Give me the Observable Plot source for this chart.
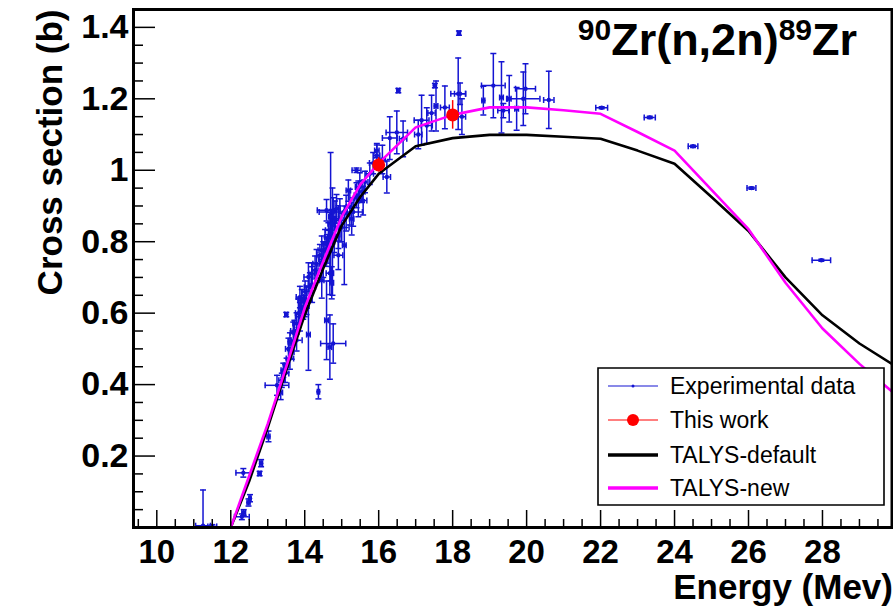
<!DOCTYPE html>
<html>
<head>
<meta charset="utf-8">
<script src="https://cdn.jsdelivr.net/npm/d3@7"></script>
<script src="https://cdn.jsdelivr.net/npm/@observablehq/plot@0.6"></script>
<style>
  html, body { margin: 0; padding: 0; background: #fff; }
  #chart svg { display: block; }
</style>
</head>
<body>
<div id="chart"></div>
<script>
// ---------------- data ----------------
// Experimental data (EXFOR): energy (MeV), cross section (b), x error, y error
const expX    = [11.25, 11.5, 12.3, 12.35, 12.48, 12.52, 12.34, 12.78, 12.82, 13.02, 13.25, 13.35, 14.37,
                 13.38, 13.47, 13.51, 13.6, 13.65, 13.6, 13.78, 13.69, 13.5, 13.78, 13.87, 13.96, 13.92, 14.05, 14.01, 14.14,
                 14.1, 14.59, 14.68, 14.77, 15.07, 14.7, 14.75, 14.73, 13.87, 14.1, 14.19, 14.32, 14.41, 14.46, 14.55, 14.64,
                 14.68, 14.73, 14.82, 14.77, 14.86, 14.91, 14.91, 14.59, 14.46, 14.68, 15.22, 15.31, 15.45, 15.49, 15.4, 15.58,
                 15.63, 15.76, 15.95, 16.22, 16.53, 16.3, 16.49, 16.66, 15.95, 15.18, 15.4, 15.27, 14.59, 17.16, 17.43, 17.55,
                 17.52, 17.79, 18.15, 18.2, 18.17, 18.83, 19.1, 19.32, 19.37, 19.53, 19.73, 19.91, 19.97, 20.6, 22.03, 23.33,
                 24.5, 26.08, 27.97, 18.25, 17.07, 17.3,
                 13.42, 13.56, 13.72, 13.83, 14.0, 14.2, 14.28, 14.5, 14.62, 14.8, 14.95, 15.0, 15.12, 15.55, 15.85, 16.1];
const expY    = [0.005, 0.003, 0.03, 0.042, 0.07, 0.082, 0.153, 0.151, 0.18, 0.255, 0.398, 0.378, 0.38,
                 0.412, 0.431, 0.454, 0.473, 0.491, 0.52, 0.524, 0.545, 0.596, 0.571, 0.59, 0.613, 0.636, 0.636, 0.66, 0.673,
                 0.54, 0.58, 0.505, 0.515, 0.79, 0.87, 0.80, 0.685, 0.645, 0.701, 0.711, 0.738, 0.762, 0.776, 0.794, 0.813,
                 0.832, 0.85, 0.864, 0.883, 0.892, 0.841, 0.762, 0.771, 0.692, 0.712, 0.897, 0.883, 0.92, 0.953, 1.0, 0.915,
                 0.967, 0.99, 1.055, 0.981, 1.223, 1.09, 1.106, 1.088, 1.041, 0.943, 0.93, 0.864, 0.888, 1.14, 1.16, 1.18,
                 1.237, 1.176, 1.214, 1.214, 1.384, 1.195, 1.237, 1.204, 1.167, 1.2, 1.172, 1.2, 1.228, 1.197, 1.175, 1.148,
                 1.067, 0.95, 0.748, 1.15, 1.10, 1.125,
                 0.44, 0.50, 0.55, 0.60, 0.62, 0.68, 0.72, 0.75, 0.78, 0.82, 0.86, 0.84, 0.88, 0.94, 1.02, 1.03];
const expXerr = [0.2, 0.12, 0.2, 0.05, 0.04, 0.03, 0.2, 0.04, 0.04, 0.04, 0.32, 0.05, 0.03,
                 0.08, 0.1, 0.06, 0.1, 0.06, 0.05, 0.15, 0.08, 0.04, 0.1, 0.12, 0.08, 0.1, 0.1, 0.08, 0.15,
                 0.05, 0.05, 0.05, 0.34, 0.05, 0.05, 0.06, 0.05, 0.1, 0.12, 0.08, 0.1, 0.08, 0.1, 0.08, 0.1,
                 0.12, 0.1, 0.1, 0.38, 0.1, 0.08, 0.12, 0.08, 0.06, 0.1, 0.1, 0.25, 0.1, 0.12, 0.12, 0.1,
                 0.08, 0.1, 0.06, 0.1, 0.04, 0.2, 0.29, 0.1, 0.08, 0.06, 0.06, 0.06, 0.25, 0.2, 0.1, 0.05,
                 0.04, 0.12, 0.2, 0.15, 0.04, 0.04, 0.32, 0.05, 0.15, 0.05, 0.05, 0.45, 0.27, 0.14, 0.16, 0.15,
                 0.13, 0.12, 0.25, 0.1, 0.1, 0.15,
                 0.06, 0.08, 0.1, 0.08, 0.12, 0.1, 0.08, 0.12, 0.1, 0.15, 0.1, 0.2, 0.1, 0.08, 0.1, 0.08];
const expYerr = [0.1, 0.005, 0.008, 0.008, 0.01, 0.01, 0.012, 0.006, 0.01, 0.015, 0.028, 0.02, 0.02,
                 0.02, 0.025, 0.02, 0.03, 0.02, 0.025, 0.03, 0.03, 0.006, 0.03, 0.04, 0.03, 0.03, 0.04, 0.03, 0.04,
                 0.1, 0.11, 0.09, 0.055, 0.11, 0.18, 0.15, 0.045, 0.03, 0.04, 0.03, 0.04, 0.03, 0.04, 0.04, 0.04,
                 0.05, 0.04, 0.05, 0.04, 0.04, 0.06, 0.04, 0.04, 0.05, 0.06, 0.05, 0.04, 0.05, 0.04, 0.006, 0.04,
                 0.03, 0.03, 0.02, 0.045, 0.006, 0.06, 0.06, 0.05, 0.03, 0.03, 0.035, 0.045, 0.03, 0.07, 0.05, 0.07,
                 0.006, 0.06, 0.1, 0.03, 0.006, 0.04, 0.09, 0.1, 0.02, 0.065, 0.06, 0.075, 0.07, 0.08, 0.003, 0.003,
                 0.003, 0.003, 0.003, 0.05, 0.04, 0.05,
                 0.02, 0.03, 0.03, 0.04, 0.03, 0.05, 0.04, 0.05, 0.04, 0.05, 0.06, 0.04, 0.05, 0.03, 0.03, 0.04];

// This work
const thisX    = [16, 18];
const thisY    = [1.015, 1.155];
const thisYerr = [0.02, 0.04];

// TALYS calculations
const talysE       = [12, 12.5, 13, 13.5, 14, 14.5, 15, 15.5, 16, 17, 18, 19, 20, 21, 22, 23, 24, 25, 26, 27, 28, 29, 30];
const talysDefault = [0, 0.13, 0.28, 0.44, 0.595, 0.725, 0.845, 0.925, 0.99, 1.067, 1.09, 1.099, 1.099, 1.094, 1.088, 1.055, 1.018, 0.925, 0.83, 0.70, 0.594, 0.515, 0.45];
const talysNew     = [0, 0.145, 0.29, 0.45, 0.615, 0.745, 0.87, 0.96, 1.02, 1.12, 1.155, 1.176, 1.176, 1.168, 1.158, 1.107, 1.055, 0.945, 0.835, 0.685, 0.557, 0.458, 0.37];

// Axis ticks
const xTicks = [10, 12, 14, 16, 18, 20, 22, 24, 26, 28];
const yTicks = [0.2, 0.4, 0.6, 0.8, 1.0, 1.2, 1.4];
const yTickLabels = ["0.2", "0.4", "0.6", "0.8", "1", "1.2", "1.4"];
const xMinor = d3.range(9.5, 29.9, 0.5).filter(v => !xTicks.includes(v));
const yMinor = d3.range(0.05, 1.45, 0.05).map(v => +v.toFixed(2)).filter(v => !yTicks.some(t => Math.abs(t - v) < 1e-6));

const titleMain = ["Zr(n,2n)", "Zr"];
const titleSup = ["90", "89"];
const xLabel = "Energy (Mev)";
const yLabel = "Cross section (b)";
const legendLabels = ["Experimental data", "This work", "TALYS-default", "TALYS-new"];

// ---------------- build ----------------
const exp = expX.map((x, i) => ({x, y: expY[i], xe: expXerr[i], ye: expYerr[i]}));
const mine = thisX.map((x, i) => ({x, y: thisY[i], ye: thisYerr[i]}));
const talys = talysE.map((e, i) => ({e, def: talysDefault[i], neu: talysNew[i]}));

const BLUE = "#1414d2";
const MAG = "#ff00ff";
const FONT = "'Liberation Sans', Arial, Helvetica, sans-serif";

const W = 893, H = 608;
const mL = 133, mR = 1.5, mT = 9, mB = 81;
const fW = W - mL - mR, fH = H - mT - mB;

const hcap = {draw(ctx, size) { const r = Math.sqrt(size / Math.PI); ctx.moveTo(-r, 0); ctx.lineTo(r, 0); }};
const vcap = {draw(ctx, size) { const r = Math.sqrt(size / Math.PI); ctx.moveTo(0, -r); ctx.lineTo(0, r); }};
const SW = 1.5;

const chart = Plot.plot({
  width: W, height: H,
  marginLeft: mL, marginRight: mR, marginTop: mT, marginBottom: mB,
  style: {fontFamily: FONT, background: "#fff", overflow: "visible"},
  x: {domain: [9.37, 29.88]},
  y: {domain: [0, 1.45]},
  marks: [
    // experimental error bars
    Plot.ruleX(exp, {x: "x", y1: d => d.y - d.ye, y2: d => d.y + d.ye, stroke: BLUE, strokeWidth: SW, clip: true}),
    Plot.ruleY(exp, {y: "y", x1: d => d.x - d.xe, x2: d => d.x + d.xe, stroke: BLUE, strokeWidth: SW, clip: true}),
    Plot.dot(exp, {x: "x", y: d => d.y + d.ye, symbol: hcap, r: 3, fill: "none", stroke: BLUE, strokeWidth: SW, clip: true}),
    Plot.dot(exp, {x: "x", y: d => d.y - d.ye, symbol: hcap, r: 3, fill: "none", stroke: BLUE, strokeWidth: SW, clip: true}),
    Plot.dot(exp, {x: d => d.x - d.xe, y: "y", symbol: vcap, r: 3, fill: "none", stroke: BLUE, strokeWidth: SW, clip: true}),
    Plot.dot(exp, {x: d => d.x + d.xe, y: "y", symbol: vcap, r: 3, fill: "none", stroke: BLUE, strokeWidth: SW, clip: true}),
    Plot.dot(exp, {x: "x", y: "y", r: 2.2, fill: BLUE, stroke: "none", clip: true}),
    // TALYS
    Plot.line(talys, {x: "e", y: "def", stroke: "#000", strokeWidth: 2.6, clip: true}),
    Plot.line(talys, {x: "e", y: "neu", stroke: MAG, strokeWidth: 2.6, clip: true}),
    // this work
    Plot.ruleX(mine, {x: "x", y1: d => d.y - d.ye, y2: d => d.y + d.ye, stroke: "#ff0000", strokeWidth: 1.5}),
    Plot.dot(mine, {x: "x", y: "y", r: 6.5, fill: "#ff0000", stroke: "none"}),
    // inner ticks
    Plot.tickX(xMinor, {x: d => d, insetTop: fH - 8, stroke: "#000", strokeWidth: 1.5}),
    Plot.tickX(xTicks, {x: d => d, insetTop: fH - 17, stroke: "#000", strokeWidth: 1.5}),
    Plot.tickY(yMinor, {y: d => d, insetRight: fW - 10, stroke: "#000", strokeWidth: 1.5}),
    Plot.tickY(yTicks, {y: d => d, insetRight: fW - 22, stroke: "#000", strokeWidth: 1.5}),
    Plot.frame({stroke: "#000", strokeWidth: 3}),
    // tick labels
    Plot.axisX({ticks: xTicks, tickSize: 0, tickPadding: 12, fontSize: 33, fontWeight: "bold", fill: "#000", label: null, tickFormat: d => String(d)}),
    Plot.axisY({ticks: yTicks, tickSize: 0, tickPadding: 5, fontSize: 34, fontWeight: "bold", fill: "#000", label: null,
                tickFormat: d => yTickLabels[yTicks.findIndex(t => Math.abs(t - d) < 1e-9)]}),
    // axis titles
    Plot.text([yLabel], {frameAnchor: "top-left", dx: -83, dy: 0, rotate: -90, textAnchor: "end", lineAnchor: "middle",
                         fontSize: 35, fontWeight: "bold", fill: "#000"}),
    Plot.text([xLabel], {frameAnchor: "bottom-right", dx: 1, dy: 71, textAnchor: "end", lineAnchor: "bottom",
                         fontSize: 35, fontWeight: "bold", fill: "#000"})
  ]
});

// title with superscripts
const svg = d3.select(chart);
const t = svg.append("text")
  .attr("x", 857).attr("y", 55)
  .attr("text-anchor", "end")
  .style("text-anchor", "end")
  .attr("font-family", FONT).attr("font-weight", "bold").attr("font-size", 45).attr("fill", "#000");
t.append("tspan").attr("font-size", 30).attr("dy", -15).text(titleSup[0]);
t.append("tspan").attr("dy", 15).text(titleMain[0]);
t.append("tspan").attr("font-size", 30).attr("dy", -15).text(titleSup[1]);
t.append("tspan").attr("dy", 15).text(titleMain[1]);

// legend
const lg = svg.append("g").attr("font-family", FONT).attr("font-size", 23);
lg.append("path")
  .attr("d", "M598,368H884V505H598Z")
  .style("fill", "#ffffff").style("stroke", "#000000").style("stroke-width", "1.6px");
const rowsY = [386, 420, 455, 488];
const sym = [
  {stroke: BLUE, w: 1.2, dot: 1.5, dotFill: BLUE},
  {stroke: "#ff0000", w: 1.2, dot: 6, dotFill: "#ff0000"},
  {stroke: "#000", w: 3.5, dot: 0},
  {stroke: MAG, w: 3.5, dot: 0}
];
rowsY.forEach((yy, i) => {
  lg.append("line").attr("x1", 608).attr("x2", 658).attr("y1", yy).attr("y2", yy)
    .style("stroke", sym[i].stroke).style("stroke-width", sym[i].w + "px");
  if (sym[i].dot) lg.append("circle").attr("cx", 633).attr("cy", yy).attr("r", sym[i].dot).style("fill", sym[i].dotFill);
  lg.append("text").attr("x", 670).attr("y", yy).attr("dy", "0.35em")
    .style("text-anchor", "start").style("fill", "#000").text(legendLabels[i]);
});

document.getElementById("chart").appendChild(chart);
</script>
</body>
</html>
